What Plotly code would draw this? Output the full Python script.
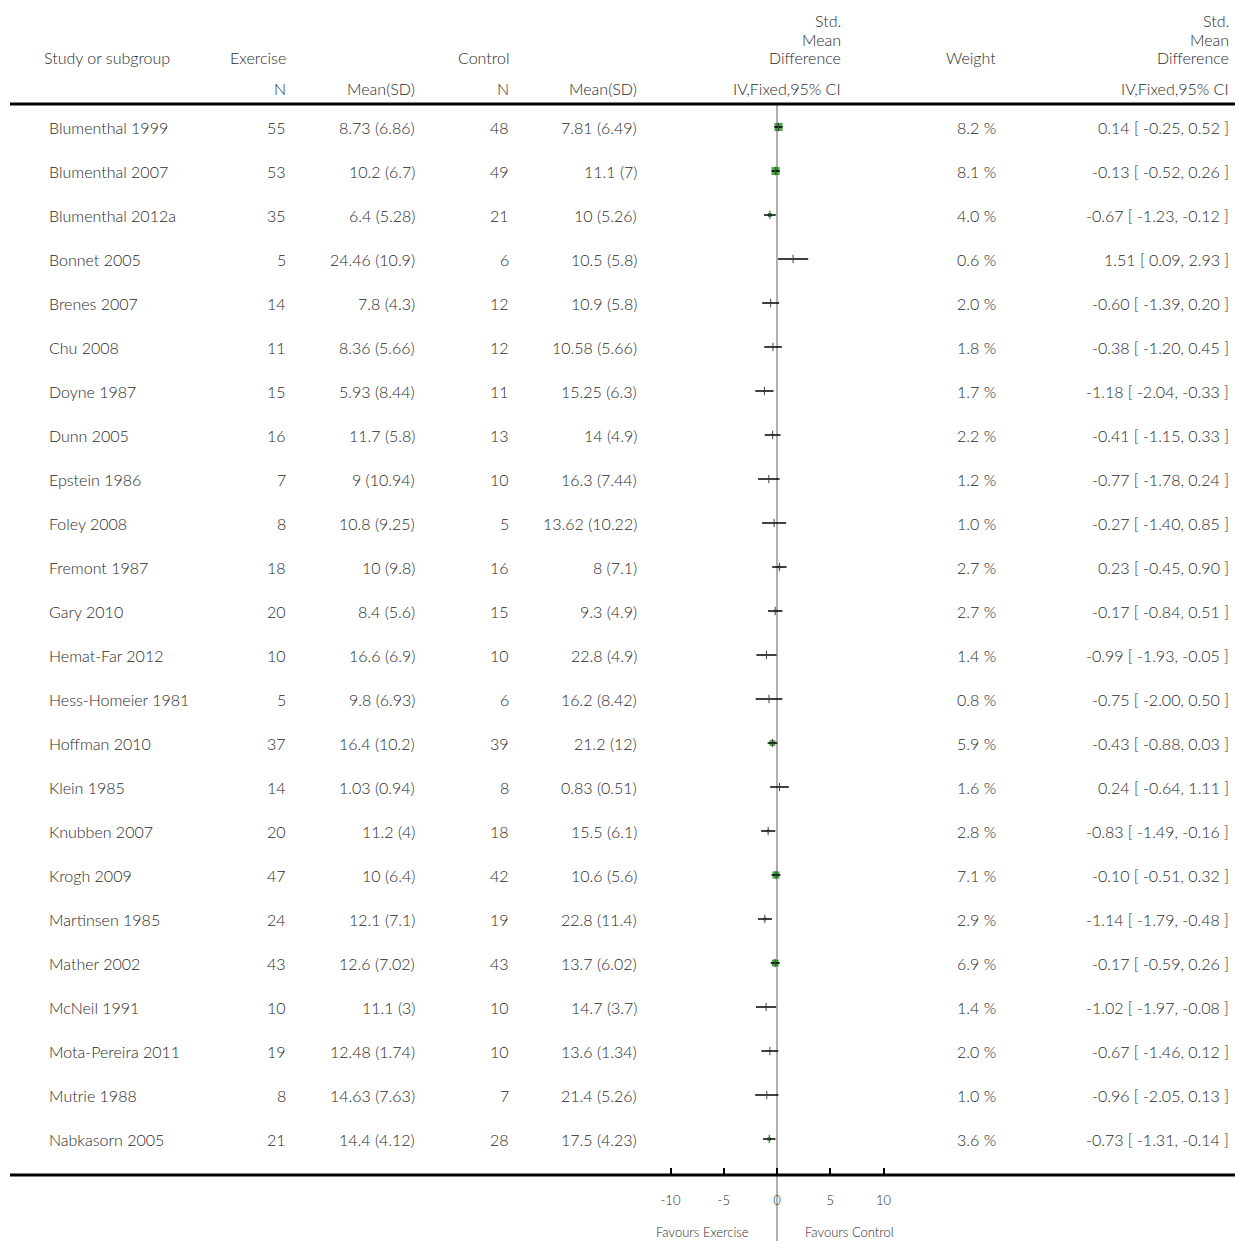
import plotly.graph_objects as go

studies = ["Blumenthal 1999", "Blumenthal 2007", "Blumenthal 2012a", "Bonnet 2005", "Brenes 2007",
           "Chu 2008", "Doyne 1987", "Dunn 2005", "Epstein 1986", "Foley 2008", "Fremont 1987",
           "Gary 2010", "Hemat-Far 2012", "Hess-Homeier 1981", "Hoffman 2010", "Klein 1985",
           "Knubben 2007", "Krogh 2009", "Martinsen 1985", "Mather 2002", "McNeil 1991",
           "Mota-Pereira 2011", "Mutrie 1988", "Nabkasorn 2005"]
ex_n = [55, 53, 35, 5, 14, 11, 15, 16, 7, 8, 18, 20, 10, 5, 37, 14, 20, 47, 24, 43, 10, 19, 8, 21]
ex_mean = ["8.73", "10.2", "6.4", "24.46", "7.8", "8.36", "5.93", "11.7", "9", "10.8", "10", "8.4",
           "16.6", "9.8", "16.4", "1.03", "11.2", "10", "12.1", "12.6", "11.1", "12.48", "14.63", "14.4"]
ex_sd = ["6.86", "6.7", "5.28", "10.9", "4.3", "5.66", "8.44", "5.8", "10.94", "9.25", "9.8", "5.6",
         "6.9", "6.93", "10.2", "0.94", "4", "6.4", "7.1", "7.02", "3", "1.74", "7.63", "4.12"]
ct_n = [48, 49, 21, 6, 12, 12, 11, 13, 10, 5, 16, 15, 10, 6, 39, 8, 18, 42, 19, 43, 10, 10, 7, 28]
ct_mean = ["7.81", "11.1", "10", "10.5", "10.9", "10.58", "15.25", "14", "16.3", "13.62", "8", "9.3",
           "22.8", "16.2", "21.2", "0.83", "15.5", "10.6", "22.8", "13.7", "14.7", "13.6", "21.4", "17.5"]
ct_sd = ["6.49", "7", "5.26", "5.8", "5.8", "5.66", "6.3", "4.9", "7.44", "10.22", "7.1", "4.9",
         "4.9", "8.42", "12", "0.51", "6.1", "5.6", "11.4", "6.02", "3.7", "1.34", "5.26", "4.23"]
weight = [8.2, 8.1, 4.0, 0.6, 2.0, 1.8, 1.7, 2.2, 1.2, 1.0, 2.7, 2.7, 1.4, 0.8, 5.9, 1.6, 2.8, 7.1,
          2.9, 6.9, 1.4, 2.0, 1.0, 3.6]
smd = [0.14, -0.13, -0.67, 1.51, -0.60, -0.38, -1.18, -0.41, -0.77, -0.27, 0.23, -0.17, -0.99,
       -0.75, -0.43, 0.24, -0.83, -0.10, -1.14, -0.17, -1.02, -0.67, -0.96, -0.73]
ci_lo = [-0.25, -0.52, -1.23, 0.09, -1.39, -1.20, -2.04, -1.15, -1.78, -1.40, -0.45, -0.84, -1.93,
         -2.00, -0.88, -0.64, -1.49, -0.51, -1.79, -0.59, -1.97, -1.46, -2.05, -1.31]
ci_hi = [0.52, 0.26, -0.12, 2.93, 0.20, 0.45, -0.33, 0.33, 0.24, 0.85, 0.90, 0.51, -0.05, 0.50,
         0.03, 1.11, -0.16, 0.32, -0.48, 0.26, -0.08, 0.12, 0.13, -0.14]
tick_vals = [-10, -5, 0, 5, 10]
tick_text = ["-10", "-5", "0", "5", "10"]

W, H = 1235, 1241
TOP, BOT = 105, 1175
FONT = "Lato"
TXT = "#2a2a2a"
FS = 16
FW = 300

rows = list(range(len(studies)))

def px_x(p):
    return p / W

def px_y(p):
    return (BOT - p) / (BOT - TOP)

fig = go.Figure()
# green weight boxes
fig.add_trace(go.Scatter(
    x=smd, y=rows, mode="markers",
    marker=dict(symbol="square", size=[w * 1.0 for w in weight], color="#008000",
                line=dict(width=0)),
    hoverinfo="skip", showlegend=False))
# CI lines + centre tick
fig.add_trace(go.Scatter(
    x=smd, y=rows, mode="markers",
    marker=dict(symbol="line-ns-open", size=6, line=dict(width=1, color="#444444"), color="#444444"),
    error_x=dict(type="data", symmetric=False,
                 array=[h - s for h, s in zip(ci_hi, smd)],
                 arrayminus=[s - l for s, l in zip(smd, ci_lo)],
                 width=0, thickness=1.5, color="black"),
    hoverinfo="skip", showlegend=False))

ann = []
def add(text, x, y, xanchor="right", yref="y", size=FS):
    ann.append(dict(text=text, x=px_x(x), xref="paper", y=y, yref=yref,
                    xanchor=xanchor, yanchor="middle", showarrow=False,
                    font=dict(family=FONT, size=size, color=TXT, weight=FW)))

for i in rows:
    add(studies[i], 47, i, xanchor="left")
    add(str(ex_n[i]), 288, i)
    add(f"{ex_mean[i]} ({ex_sd[i]})", 417, i)
    add(str(ct_n[i]), 511, i)
    add(f"{ct_mean[i]} ({ct_sd[i]})", 639, i)
    add(f"{weight[i]:.1f} %", 998, i)
    add(f"{smd[i]:.2f} [ {ci_lo[i]:.2f}, {ci_hi[i]:.2f} ]", 1231, i)

# headers
add("Study or subgroup", 42, px_y(58), xanchor="left", yref="paper")
add("Exercise", 288, px_y(58), yref="paper")
add("N", 288, px_y(88), yref="paper")
add("Mean(SD)", 417, px_y(88), yref="paper")
add("Control", 511, px_y(58), yref="paper")
add("N", 511, px_y(88), yref="paper")
add("Mean(SD)", 639, px_y(88), yref="paper")
for xx in (843, 1231):
    add("Std.", xx, px_y(21), yref="paper")
    add("Mean", xx, px_y(40), yref="paper")
    add("Difference", xx, px_y(58), yref="paper")
    add("IV,Fixed,95% CI", xx, px_y(88), yref="paper")
add("Weight", 998, px_y(58), yref="paper")
add("Favours Exercise", 751, px_y(1232), yref="paper", size=13)
add("Favours Control", 803, px_y(1232), xanchor="left", yref="paper", size=13)

shapes = [
    dict(type="line", xref="x", yref="paper", x0=0, x1=0, y0=px_y(1241), y1=1,
         line=dict(color="#b0b0b0", width=2), layer="below"),
    dict(type="line", xref="paper", yref="paper", x0=px_x(10), x1=1, y0=px_y(104), y1=px_y(104),
         line=dict(color="black", width=3)),
    dict(type="line", xref="paper", yref="paper", x0=px_x(10), x1=1, y0=0, y1=0,
         line=dict(color="black", width=3)),
]

x0px = 777
scale = 10.65
xr = [-x0px / scale, (W - x0px) / scale]

fig.update_layout(
    width=W, height=H,
    margin=dict(l=0, r=0, t=TOP, b=H - BOT, pad=0),
    paper_bgcolor="white", plot_bgcolor="white",
    annotations=ann, shapes=shapes,
    xaxis=dict(range=xr, tickvals=tick_vals, ticktext=tick_text, ticks="inside", ticklen=7,
               tickwidth=2, tickcolor="black", showgrid=False, zeroline=False, showline=False,
               tickfont=dict(family=FONT, size=13, color=TXT, weight=FW), ticklabelstandoff=16,
               fixedrange=True),
    yaxis=dict(range=[(BOT - 127) / 44, -0.5], showticklabels=False, showgrid=False,
               zeroline=False, showline=False, ticks="", fixedrange=True),
    showlegend=False,
)

fig.write_html("out.html", config={"displayModeBar": False},
               post_script="document.body.style.margin='0';document.body.style.overflow='hidden';")
